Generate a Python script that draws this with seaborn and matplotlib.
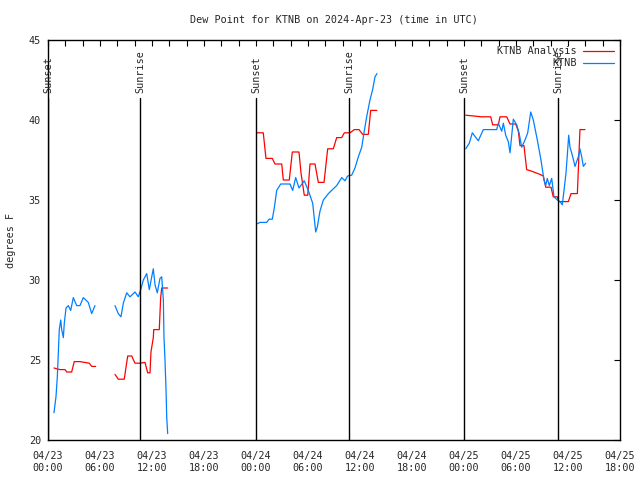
import numpy as np
import pandas as pd
import matplotlib
matplotlib.use('Agg')
import matplotlib.pyplot as plt
import matplotlib.dates as mdates
import seaborn as sns

# hours after 2024-04-23 00:00 UTC, values in degrees F
ana_h1 = [0.69, 1.38, 1.96, 2.16, 2.73, 3.03, 3.69, 4.77, 5.04, 5.5]
ana_v1 = [24.5, 24.4, 24.4, 24.25, 24.25, 24.9, 24.9, 24.8, 24.6, 24.6]
ana_h2 = [7.73, 8.11, 8.8, 9.0, 9.2, 9.66, 10.04, 10.62, 11.19, 11.5, 11.77, 11.88,
          12.15, 12.2, 12.84, 13.0, 13.12, 13.81]
ana_v2 = [24.1, 23.8, 23.8, 24.55, 25.25, 25.25, 24.8, 24.8, 24.85, 24.2, 24.2, 25.5,
          26.4, 26.9, 26.9, 28.9, 29.5, 29.5]
ana_h3 = [24.08, 24.84, 25.15, 25.88, 26.19, 26.97, 27.15, 27.84, 28.19, 28.96, 29.19,
          29.57, 29.97, 30.23, 30.81, 31.19, 31.85, 32.27, 32.92, 33.31, 33.89, 34.19,
          34.85, 35.34, 35.88, 36.31, 36.96, 37.23, 37.93]
ana_v3 = [39.2, 39.2, 37.6, 37.6, 37.25, 37.25, 36.25, 36.25, 38.0, 38.0, 36.7,
          35.3, 35.3, 37.25, 37.25, 36.1, 36.1, 38.2, 38.2, 38.9, 38.9, 39.2,
          39.2, 39.4, 39.4, 39.1, 39.1, 40.6, 40.6]
ana_h4 = [48.2, 50.04, 51.08, 51.31, 51.96, 52.15, 52.93, 53.31, 53.97, 54.27, 54.46,
          54.92, 55.23, 55.81, 56.77, 57.15, 57.43, 58.04, 58.3, 58.77, 58.93, 60.04,
          60.35, 61.08, 61.38, 61.96]
ana_v4 = [40.3, 40.2, 40.2, 39.7, 39.7, 40.2, 40.2, 39.75, 39.75, 39.3, 38.4,
          38.4, 36.9, 36.8, 36.6, 36.5, 35.8, 35.8, 35.2, 35.2, 34.9, 34.9,
          35.4, 35.4, 39.4, 39.4]

obs_h1 = [0.69, 0.92, 1.07, 1.19, 1.3, 1.47, 1.58, 1.77, 1.88, 2.08, 2.34, 2.62, 2.92,
          3.31, 3.69, 4.07, 4.65, 5.04, 5.42]
obs_v1 = [21.7, 22.7, 23.9, 25.4, 26.9, 27.5, 26.9, 26.4, 27.3, 28.25, 28.4, 28.1, 28.9,
          28.4, 28.4, 28.9, 28.6, 27.9, 28.4]
obs_h2 = [7.73, 8.11, 8.42, 8.69, 9.08, 9.46, 10.04, 10.42, 10.7, 11.0, 11.39, 11.69,
          11.97, 12.15, 12.35, 12.61, 12.92, 13.12, 13.31, 13.38, 13.5, 13.62, 13.7, 13.81]
obs_v2 = [28.4, 27.9, 27.7, 28.55, 29.2, 28.95, 29.25, 28.95, 29.4, 30.0, 30.4, 29.4,
          30.2, 30.7, 29.7, 29.2, 30.1, 30.2, 28.75, 26.45, 25.0, 23.1, 21.4, 20.4]
obs_h3 = [24.08, 24.46, 25.23, 25.5, 25.88, 26.11, 26.39, 26.85, 27.92, 28.23, 28.58,
          28.96, 29.57, 30.03, 30.54, 30.89, 31.07, 31.38, 31.77, 32.35, 33.31, 33.89,
          34.27, 34.58, 35.04, 35.42, 35.81, 36.2, 36.46, 36.77, 37.15, 37.46, 37.73, 37.96]
obs_v3 = [33.5, 33.6, 33.6, 33.8, 33.8, 34.5, 35.6, 36.0, 36.0, 35.6, 36.4,
          35.75, 36.2, 35.6, 34.8, 33.0, 33.3, 34.3, 35.0, 35.4, 35.9, 36.4,
          36.2, 36.5, 36.55, 37.0, 37.7, 38.3, 39.2, 40.2, 41.25, 41.9, 42.7, 42.9]
obs_h4 = [48.2, 48.61, 48.96, 49.65, 50.23, 51.77, 51.96, 52.35, 52.54, 52.81, 53.11,
          53.31, 53.69, 54.08, 54.35, 54.66, 55.04, 55.35, 55.7, 56.0, 56.46, 56.88,
          57.23, 57.43, 57.61, 57.84, 58.12, 58.38, 58.77, 59.08, 59.34, 59.54, 59.77,
          59.92, 60.08, 60.23, 60.5, 60.81, 61.19, 61.38, 61.58, 61.77, 62.04]
obs_v4 = [38.2, 38.55, 39.2, 38.7, 39.4, 39.4, 39.8, 39.3, 39.8, 39.05, 38.65,
          37.95, 40.05, 39.7, 39.2, 38.3, 38.75, 39.2, 40.5, 40.0, 38.75, 37.5,
          36.25, 35.9, 36.35, 35.9, 36.35, 35.2, 35.0, 34.9, 34.7, 35.6, 36.7,
          37.8, 39.05, 38.3, 37.8, 37.1, 37.7, 38.2, 37.7, 37.1, 37.3]

sun_hours = [0.0, 10.62, 24.0, 34.73, 48.0, 58.85]
sun_labels = ['Sunset', 'Sunrise', 'Sunset', 'Sunrise', 'Sunset', 'Sunrise']

base = pd.Timestamp('2024-04-23 00:00')


def make_df(segments, name):
    rows = []
    for i, (h, v) in enumerate(segments):
        for hh, vv in zip(h, v):
            rows.append({'time': base + pd.Timedelta(hours=hh), 'value': vv,
                         'seg': i, 'series': name})
    return pd.DataFrame(rows)


ana = make_df([(ana_h1, ana_v1), (ana_h2, ana_v2), (ana_h3, ana_v3), (ana_h4, ana_v4)],
              'KTNB Analysis')
obs = make_df([(obs_h1, obs_v1), (obs_h2, obs_v2), (obs_h3, obs_v3), (obs_h4, obs_v4)],
              'KTNB')

sns.set_style('white')
plt.rcParams['font.family'] = ['DejaVu Sans Mono']
fs = 7.3

fig = plt.figure(figsize=(6.4, 4.8), dpi=100)
ax = fig.add_axes([48 / 640, 40 / 480, 572 / 640, 400 / 480])

sns.lineplot(data=ana, x='time', y='value', units='seg', estimator=None, sort=False,
             color='#ff0000', lw=0.9, ax=ax, label='KTNB Analysis')
sns.lineplot(data=obs, x='time', y='value', units='seg', estimator=None, sort=False,
             color='#0080ff', lw=0.9, ax=ax, label='KTNB')

ymax_line = (41.375 - 20) / 25
for h, lab in zip(sun_hours, sun_labels):
    t = base + pd.Timedelta(hours=h)
    ax.axvline(t, ymin=0, ymax=ymax_line, color='black', lw=1.0)
    ax.text(t, 41.7, lab, rotation=90, ha='center', va='bottom', fontsize=fs,
            clip_on=False)

ax.set_xlim(base, base + pd.Timedelta(hours=66))
ax.set_ylim(20, 45)
ax.set_yticks([20, 25, 30, 35, 40, 45])
ax.xaxis.set_major_locator(mdates.HourLocator(byhour=[0, 6, 12, 18]))
ax.xaxis.set_minor_locator(mdates.HourLocator(interval=2))
ax.xaxis.set_major_formatter(mdates.DateFormatter('%m/%d\n%H:%M'))
ax.tick_params(axis='both', which='both', direction='in', top=True, right=True,
               length=4, width=0.8, labelsize=fs, color='black')
ax.tick_params(axis='x', which='major', pad=8)
ax.tick_params(axis='y', which='major', pad=5)
for s in ax.spines.values():
    s.set_color('black')
    s.set_linewidth(1.0)

ax.set_xlabel('')
ax.set_ylabel('degrees F', fontsize=fs, labelpad=9)
ax.set_title('Dew Point for KTNB on 2024-Apr-23 (time in UTC)', fontsize=fs, pad=12)

# one legend entry per series (lineplot adds one per unit)
handles, labels = ax.get_legend_handles_labels()
seen = {}
for hd, lb in zip(handles, labels):
    if lb not in seen:
        seen[lb] = hd
ax.legend(list(seen.values()), list(seen.keys()), loc='upper right', frameon=False,
          markerfirst=False, fontsize=fs, handlelength=3.0, borderaxespad=0.2,
          labelspacing=0.2, handletextpad=0.7)

fig.savefig('out.png', dpi=100)
